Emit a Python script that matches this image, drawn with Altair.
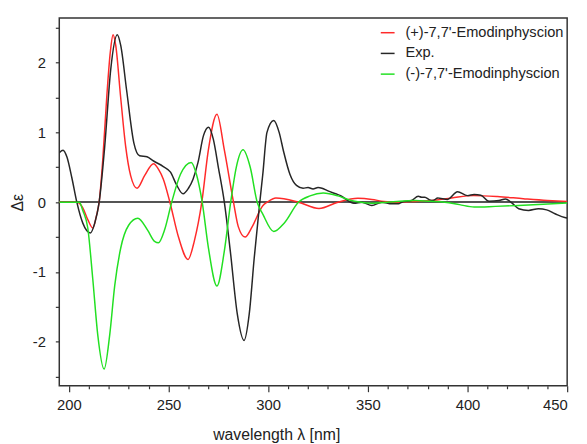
import altair as alt
import pandas as pd

# (+)-7,7'-Emodinphyscion (calculated)
wl_plus = [195.2, 200, 204, 207, 209.5, 212, 213.8, 215.2, 217, 219, 220.8, 222.2, 223.5, 226,
           228.5, 231, 234.2, 238, 242.5, 245, 247.4, 250.7, 255, 259.8, 263, 266.7, 270, 274.3,
           278, 282.6, 285, 288.4, 292, 297.3, 299.5, 303.9, 315.2, 325.5, 335.0, 345, 352, 358,
           365, 372, 382, 392, 403, 415, 428, 440, 450]
de_plus = [0, 0, 0, -0.08, -0.25, -0.37, -0.2, 0, 0.6, 1.5, 2.15, 2.40, 2.25, 1.5,
           0.8, 0.38, 0.20, 0.38, 0.55, 0.47, 0.33, 0, -0.5, -0.82, -0.55, 0, 0.75, 1.26,
           0.75, 0, -0.35, -0.50, -0.35, -0.05, 0.0, 0.06, 0, -0.09, 0, 0.055, 0.04, 0.01,
           0, 0.01, 0.024, 0.06, 0.094, 0.08, 0.05, 0.025, 0.01]

# Experimental spectrum
wl_exp = [195.2, 197.1, 199, 201.5, 204, 207, 210.8, 213, 215.2, 218, 221, 224.3, 226, 229,
          232.6, 235.5, 239.2, 242.5, 247.4, 251, 254, 257.3, 260, 262.3, 264.8, 267.5, 270.1,
          272.5, 275, 278, 281, 284.5, 287.9, 290.5, 293, 295.8, 297.3, 299.4, 302.8, 305.5,
          307.7, 310.9, 314.2, 317.5, 320, 322.5, 325, 327, 329.7, 333.9, 336.3, 338.8, 341.3,
          343, 347.1, 352, 357, 362, 365.4, 367, 371.9, 375.3, 377, 378.6, 381, 382.7, 385.1,
          386, 390, 395, 400, 403.3, 406.7, 410.8, 415.8, 419.1, 422.4, 425.7, 430.6, 435.6,
          439.7, 443.9, 448.8, 450]
de_exp = [0.71, 0.745, 0.65, 0.35, 0, -0.3, -0.44, -0.3, 0, 0.8, 1.9, 2.40, 2.25, 1.6,
          0.85, 0.665, 0.65, 0.59, 0.51, 0.43, 0.25, 0.12, 0.2, 0.33, 0.57, 0.95, 1.075,
          0.9, 0.5, 0, -0.7, -1.6, -1.98, -1.6, -0.8, 0, 0.4, 1.0, 1.17, 1.0,
          0.73, 0.40, 0.24, 0.2, 0.21, 0.19, 0.21, 0.2, 0.165, 0.12, 0.095, 0.047, 0,
          -0.015, 0, -0.047, 0, -0.024, -0.024, 0, 0.024, 0.085, 0.07, 0.07, 0.033, 0.024, 0.06,
          0.057, 0.04, 0.15, 0.094, 0.11, 0.1, 0.014, 0.024, 0.047, -0.014, -0.094, -0.118, -0.094,
          -0.11, -0.165, -0.22, -0.225]

# (-)-7,7'-Emodinphyscion (calculated)
wl_minus = [195.2, 200, 205.3, 207, 209.5, 212, 214.5, 217.7, 220.5, 223, 226, 230, 234.6,
            239.5, 243, 245, 248, 251.6, 256, 261.4, 264, 266.9, 270, 274.3, 278, 281.2, 284,
            287.4, 291, 294.5, 297.3, 302.8, 308, 315.2, 321, 327.6, 335, 341, 346.4, 352, 360,
            366, 373.7, 381, 388.6, 396, 403.3, 414, 425.6, 438, 450]
de_minus = [0, 0, 0, -0.12, -0.37, -1.1, -1.9, -2.39, -1.9, -1.2, -0.66, -0.33, -0.23,
            -0.4, -0.56, -0.58, -0.4, 0, 0.4, 0.57, 0.4, 0, -0.65, -1.20, -0.7, 0, 0.5,
            0.75, 0.5, 0, -0.17, -0.42, -0.3, 0, 0.09, 0.13, 0.09, 0.03, 0, -0.014, 0,
            0.015, 0.024, 0.012, 0, -0.035, -0.07, -0.06, -0.047, -0.03, -0.01]

series_names = ["(+)-7,7'-Emodinphyscion", "Exp.", "(-)-7,7'-Emodinphyscion"]
series_colors = ["#ff2a2a", "#262626", "#22e022"]

x_ticks = list(range(200, 451, 10))
y_ticks = [-2.5, -2.0, -1.5, -1.0, -0.5, 0.0, 0.5, 1.0, 1.5, 2.0, 2.5]

frames = []
for name, wl, de in zip(series_names, [wl_plus, wl_exp, wl_minus], [de_plus, de_exp, de_minus]):
    frames.append(pd.DataFrame({"wl": wl, "de": de, "series": name}))
df = pd.concat(frames, ignore_index=True)

x_scale = alt.Scale(domain=[195.2, 450], nice=False, zero=False)
y_scale = alt.Scale(domain=[-2.63, 2.64], nice=False, zero=False)

x_axis = alt.Axis(
    values=x_ticks,
    labelExpr="datum.value % 50 === 0 ? datum.label : ''",
    tickSize={"condition": {"test": "datum.value % 50 === 0", "value": 6}, "value": 3},
    title="wavelength λ [nm]",
    titleX=220, titleY=54, titleAlign="center", titleBaseline="alphabetic",
    labelPadding=6, grid=False, domain=False,
)
y_axis = alt.Axis(
    values=y_ticks,
    labelExpr="abs(datum.value - round(datum.value)) < 0.001 ? toString(round(datum.value)) : ''",
    labelOverlap=False,
    tickSize=4,
    title="Δε",
    titleX=-37, titleY=187, titleAlign="center", titleBaseline="alphabetic", titleAngle=-90,
    labelPadding=10, grid=False, domain=False,
)

zero = alt.Chart(df).mark_rule(color="#555555", strokeWidth=1.5).encode(
    y=alt.Y(datum=0, scale=y_scale, axis=y_axis)
)

lines = alt.Chart(df).mark_line(strokeWidth=1.5, interpolate="monotone", clip=True).encode(
    x=alt.X("wl:Q", scale=x_scale, axis=x_axis),
    y=alt.Y("de:Q", scale=y_scale, axis=y_axis),
    color=alt.Color(
        "series:N",
        scale=alt.Scale(domain=series_names, range=series_colors),
        legend=alt.Legend(
            title=None, orient="none", legendX=325, legendY=7,
            symbolType="stroke", symbolSize=196, symbolStrokeWidth=1.5,
            labelFontSize=14.8, labelOffset=10, rowPadding=6, padding=0, labelLimit=400,
            labelFont="Liberation Sans", labelColor="#222",
        ),
    ),
    detail="series:N",
)

chart = (
    alt.layer(zero, lines)
    .properties(
        width=515, height=373,
        autosize=alt.AutoSizeParams(type="none"),
        padding={"left": 52, "top": 7, "right": 12, "bottom": 56},
    )
    .configure_view(stroke="#333333", strokeWidth=1.5)
    .configure_axis(
        labelFont="Liberation Sans", titleFont="Liberation Sans",
        labelFontSize=15, titleFontSize=16, labelColor="#222", titleColor="#222",
        tickColor="#333333", tickWidth=1.2, titleFontWeight="normal",
    )
)

chart.save("out.html", embed_options={"renderer": "svg", "actions": False})
